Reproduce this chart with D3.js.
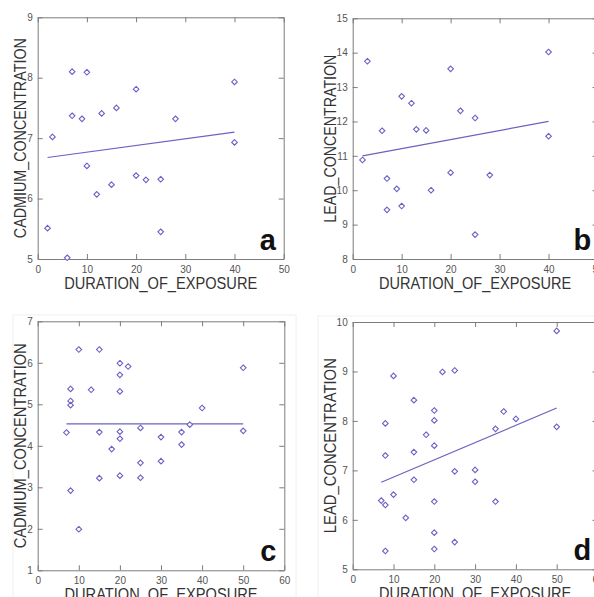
<!DOCTYPE html>
<html>
<head>
<meta charset="utf-8">
<script src="https://cdn.jsdelivr.net/npm/d3@7"></script>
<style>
  body { margin: 0; background: #fff; }
  svg { display: block; font-family: "Liberation Sans", Arial, sans-serif; }
</style>
</head>
<body>
<svg id="canvas" width="594" height="597"></svg>
<script>
  // Panel a: cadmium vs duration (group 1)
  var cadmiumA = [
    [2, 5.51], [3, 7.02], [6, 5.02], [7, 8.10], [7, 7.37], [9, 7.32], [10, 8.09],
    [10, 6.54], [12, 6.07], [13, 7.41], [15, 6.23], [16, 7.50], [20, 7.81], [20, 6.38],
    [22, 6.31], [25, 6.32], [25, 5.45], [28, 7.32], [40, 7.93], [40, 6.93]
  ];
  var cadmiumAFit = [[2, 6.68], [40, 7.10]];

  // Panel b: lead vs duration (group 1)
  var leadB = [
    [2, 10.88], [3, 13.75], [6, 11.73], [7, 10.34], [7, 9.43], [9, 10.04], [10, 12.73],
    [10, 9.54], [12, 12.53], [13, 11.77], [15, 11.74], [16, 10.0], [20, 13.53], [20, 10.51],
    [22, 12.31], [25, 12.10], [25, 8.71], [28, 10.44], [40, 14.02], [40, 11.57]
  ];
  var leadBFit = [[2, 11.0], [40, 12.0]];

  // Panel c: cadmium vs duration (group 2)
  var cadmiumC = [
    [7, 4.32], [8, 5.37], [8, 5.08], [8, 4.98], [8, 2.92], [10, 6.32], [10, 1.99],
    [13, 5.35], [15, 6.32], [15, 4.33], [15, 3.22], [18, 3.92], [20, 5.99], [20, 5.71],
    [20, 5.31], [20, 4.34], [20, 4.17], [20, 3.28], [22, 5.91], [25, 4.43], [25, 3.59],
    [25, 3.23], [30, 4.21], [30, 3.63], [35, 4.33], [35, 4.03], [37, 4.51], [40, 4.91],
    [50, 5.88], [50, 4.36]
  ];
  var cadmiumCFit = [[7, 4.53], [50, 4.53]];

  // Panel d: lead vs duration (group 2)
  var leadD = [
    [7, 6.39], [8, 7.95], [8, 7.30], [8, 6.30], [8, 5.37], [10, 8.91], [10, 6.51],
    [13, 6.04], [15, 8.42], [15, 7.37], [15, 6.81], [18, 7.72], [20, 8.21], [20, 8.01],
    [20, 7.50], [20, 6.37], [20, 5.74], [20, 5.41], [22, 8.99], [25, 9.02], [25, 6.98],
    [25, 5.55], [30, 7.01], [30, 6.77], [35, 7.84], [35, 6.37], [37, 8.19], [40, 8.04],
    [50, 9.82], [50, 7.88]
  ];
  var leadDFit = [[7, 6.76], [50, 8.26]];

  var xTicksA = [0, 10, 20, 30, 40, 50];
  var xTicksC = [0, 10, 20, 30, 40, 50, 60];
  var yTicksA = [5, 6, 7, 8, 9];
  var yTicksB = [8, 9, 10, 11, 12, 13, 14, 15];
  var yTicksC = [1, 2, 3, 4, 5, 6, 7];
  var yTicksD = [5, 6, 7, 8, 9, 10];

  var X_LABEL = 'DURATION_OF_EXPOSURE';
  var MARK_COLOR = '#6a62c2';
  var AXIS_COLOR = '#7c7c7c';

  var panels = [
    { letter: 'a', data: cadmiumA, fit: cadmiumAFit, xTicks: xTicksA, yTicks: yTicksA,
      yLabel: 'CADMIUM_CONCENTRATION', box: [37.7, 17.3, 283.7, 259],
      yLabelX: 20, yLabelLen: 200, xLabelLen: 193, frame: null },
    { letter: 'b', data: leadB, fit: leadBFit, xTicks: xTicksA, yTicks: yTicksB,
      yLabel: 'LEAD_CONCENTRATION', box: [352.7, 18.3, 597.5, 259],
      yLabelX: 330, yLabelLen: 168, xLabelLen: 192, frame: null },
    { letter: 'c', data: cadmiumC, fit: cadmiumCFit, xTicks: xTicksC, yTicks: yTicksC,
      yLabel: 'CADMIUM_CONCENTRATION', box: [37.7, 321.3, 284.3, 570.3],
      yLabelX: 20, yLabelLen: 205, xLabelLen: 193, frame: [13, 315, 296, 620] },
    { letter: 'd', data: leadD, fit: leadDFit, xTicks: xTicksC, yTicks: yTicksD,
      yLabel: 'LEAD_CONCENTRATION', box: [352.7, 322, 597.5, 569.3],
      yLabelX: 330, yLabelLen: 175, xLabelLen: 192, frame: [318, 316, 620, 620] }
  ];

  var canvas = d3.select('#canvas');
  var marker = d3.symbol().type(d3.symbolDiamond2).size(20);
  var intFormat = d3.format('d');

  panels.forEach(function (p) {
    var x0 = p.box[0], y0 = p.box[1], x1 = p.box[2], y1 = p.box[3];
    var g = canvas.append('g').classed('panel', true);

    // Faint frame of the pasted figure
    if (p.frame) {
      g.append('rect')
        .attr('x', p.frame[0]).attr('y', p.frame[1])
        .attr('width', p.frame[2] - p.frame[0]).attr('height', p.frame[3] - p.frame[1])
        .attr('fill', 'none').attr('stroke', '#f0f0f0');
    }

    var xScale = d3.scaleLinear()
      .domain(d3.extent(p.xTicks))
      .range([x0, x1]);
    var yScale = d3.scaleLinear()
      .domain(d3.extent(p.yTicks))
      .range([y1, y0]);

    // Box with inward ticks on all four sides
    var axes = [
      d3.axisBottom(xScale).tickValues(p.xTicks).tickFormat(intFormat)
        .tickSizeInner(-5).tickSizeOuter(0).tickPadding(7),
      d3.axisTop(xScale).tickValues(p.xTicks).tickSizeInner(-5).tickSizeOuter(0).tickFormat(''),
      d3.axisLeft(yScale).tickValues(p.yTicks).tickFormat(intFormat)
        .tickSizeInner(-5).tickSizeOuter(0).tickPadding(5),
      d3.axisRight(yScale).tickValues(p.yTicks).tickSizeInner(-5).tickSizeOuter(0).tickFormat('')
    ];
    var shifts = [[0, y1], [0, y0], [x0, 0], [x1, 0]];
    axes.forEach(function (axis, i) {
      var ag = g.append('g')
        .attr('transform', 'translate(' + shifts[i][0] + ',' + shifts[i][1] + ')')
        .call(axis);
      ag.select('.domain').attr('stroke', AXIS_COLOR);
      ag.selectAll('.tick line').attr('stroke', AXIS_COLOR);
      ag.selectAll('.tick text')
        .attr('fill', '#555')
        .style('font-size', '10px');
    });

    // Least squares line
    g.append('path')
      .datum(p.fit)
      .attr('d', d3.line()
        .x(function (d) { return xScale(d[0]); })
        .y(function (d) { return yScale(d[1]); }))
      .attr('fill', 'none')
      .attr('stroke', MARK_COLOR)
      .attr('stroke-width', 1.2);

    g.selectAll('.pt')
      .data(p.data)
      .enter()
      .append('path')
      .classed('pt', true)
      .attr('d', marker)
      .attr('transform', function (d) {
        return 'translate(' + xScale(d[0]) + ',' + yScale(d[1]) + ')';
      })
      .attr('fill', '#fff')
      .attr('stroke', MARK_COLOR)
      .attr('stroke-width', 1.1);

    // Axis titles
    g.append('text')
      .attr('x', (x0 + x1) / 2)
      .attr('y', y1 + 29.5)
      .attr('text-anchor', 'middle')
      .attr('textLength', p.xLabelLen)
      .attr('lengthAdjust', 'spacingAndGlyphs')
      .attr('fill', '#333')
      .style('font-size', '16.5px')
      .text(X_LABEL);

    g.append('text')
      .attr('transform', 'translate(' + (p.yLabelX + 6) + ',' + ((y0 + y1) / 2) + ') rotate(-90)')
      .attr('text-anchor', 'middle')
      .attr('textLength', p.yLabelLen)
      .attr('lengthAdjust', 'spacingAndGlyphs')
      .attr('fill', '#333')
      .style('font-size', '16.5px')
      .text(p.yLabel);

    // Panel letter
    g.append('text')
      .attr('x', x1 - 24)
      .attr('y', y1 - 9)
      .attr('fill', '#111')
      .style('font-size', '29px')
      .style('font-weight', 'bold')
      .text(p.letter);
  });
</script>
</body>
</html>
